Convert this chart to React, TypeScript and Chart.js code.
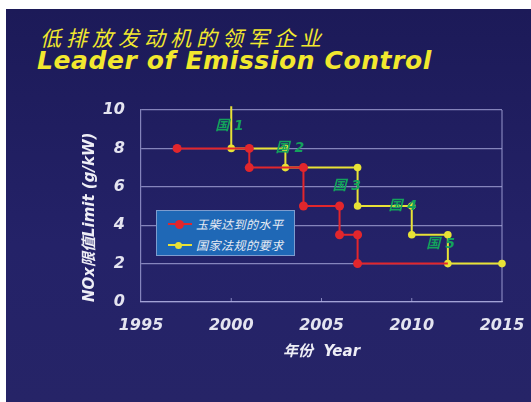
import { useEffect, useRef } from "react";
import { Chart, registerables } from "chart.js";
Chart.register(...registerables);

// Series: 玉柴达到的水平 (Yuchai level), step points
const yuchaiX = [1997, 2001, 2001, 2004, 2004, 2006, 2006, 2007, 2007, 2012];
const yuchaiY = [8, 8, 7, 7, 5, 5, 3.5, 3.5, 2, 2];
// Series: 国家法规的要求 (national regulation)
const stdX = [2000, 2000, 2003, 2003, 2007, 2007, 2010, 2010, 2012, 2012, 2015];
const stdY = [10.2, 8, 8, 7, 7, 5, 5, 3.5, 3.5, 2, 2];

const seriesNames = ["玉柴达到的水平", "国家法规的要求"];
const seriesColors = ["#e2262c", "#e8e236"];

const stageLabels = ["国 1", "国 2", "国 3", "国 4", "国 5"];
const stageX = [1999.9, 2003.25, 2006.4, 2009.5, 2011.6];
const stageY = [9.17, 8.0, 6.04, 5.0, 3.02];

const xTickLabels = ["1995", "2000", "2005", "2010", "2015"];
const yTickLabels = ["0", "2", "4", "6", "8", "10"];

const titleZh = "低排放发动机的领军企业";
const titleEn = "Leader of Emission Control";
const xTitle = "年份  Year";
const yTitle = "NOx限值Limit (g/kW)";

const GRID = "rgba(175,175,225,0.7)";
const LATIN = "'DejaVu Sans', 'Noto Sans CJK SC', sans-serif";
const CJK = "'Noto Sans CJK SC', sans-serif";

export default function App() {
  const ref = useRef<HTMLCanvasElement>(null);

  useEffect(() => {
    const framePlugin = {
      id: "frame",
      beforeDatasetsDraw(chart: any) {
        const { ctx, chartArea } = chart;
        const xs = chart.scales.x;
        ctx.save();
        ctx.strokeStyle = GRID;
        ctx.lineWidth = 1.2;
        ctx.beginPath();
        ctx.moveTo(chartArea.right, chartArea.top);
        ctx.lineTo(chartArea.right, chartArea.bottom);
        ctx.stroke();
        ctx.lineWidth = 1;
        xs.ticks.forEach((t: any) => {
          const px = xs.getPixelForValue(t.value);
          if (px > chartArea.left + 1 && px < chartArea.right - 1) {
            ctx.beginPath();
            ctx.moveTo(px, chartArea.bottom);
            ctx.lineTo(px, chartArea.bottom - 4);
            ctx.stroke();
          }
        });
        ctx.restore();
      },
    };
    const stagePlugin = {
      id: "stages",
      afterDatasetsDraw(chart: any) {
        const { ctx } = chart;
        const xs = chart.scales.x;
        const ys = chart.scales.y;
        ctx.save();
        ctx.fillStyle = "#14a25c";
        ctx.font = `italic bold 14px ${LATIN}`;
        ctx.textAlign = "center";
        ctx.textBaseline = "middle";
        stageLabels.forEach((l, i) => {
          ctx.fillText(l, xs.getPixelForValue(stageX[i]), ys.getPixelForValue(stageY[i]));
        });
        ctx.restore();
      },
    };

    const chart = new Chart(ref.current!, {
      type: "line",
      data: {
        datasets: [
          {
            label: seriesNames[0],
            data: yuchaiX.map((x, i) => ({ x, y: yuchaiY[i] })),
            borderColor: seriesColors[0],
            backgroundColor: seriesColors[0],
            borderWidth: 2,
            pointRadius: yuchaiX.map((_, i) => (i === yuchaiX.length - 1 ? 0 : 4.5)),
            pointBorderWidth: 0,
            tension: 0,
            clip: false as any,
          },
          {
            label: seriesNames[1],
            data: stdX.map((x, i) => ({ x, y: stdY[i] })),
            borderColor: seriesColors[1],
            backgroundColor: seriesColors[1],
            borderWidth: 2,
            pointRadius: stdX.map((_, i) => (i === 0 ? 0 : 3.8)),
            pointBorderWidth: 0,
            tension: 0,
            clip: false as any,
          },
        ],
      },
      options: {
        responsive: false,
        animation: false,
        layout: { padding: { left: 0, top: 110, right: 29, bottom: 0 } },
        plugins: { legend: { display: false }, tooltip: { enabled: false } },
        scales: {
          x: {
            type: "linear",
            min: 1995,
            max: 2015,
            afterFit: (s: any) => {
              s.height = 100;
              s.paddingLeft = 0;
              s.paddingRight = 0;
            },
            ticks: {
              stepSize: 5,
              padding: 14,
              maxRotation: 0,
              color: "#e4e4f0",
              font: { family: LATIN, size: 16, weight: "bold", style: "italic" },
              callback: (v: any) => xTickLabels[Math.round((Number(v) - 1995) / 5)] ?? "",
            },
            grid: { drawOnChartArea: false, drawTicks: false, color: GRID },
            border: { color: GRID, width: 1.2 },
            title: {
              display: true,
              text: xTitle,
              color: "#eeeef6",
              font: { family: LATIN, size: 15, weight: "bold", style: "italic" },
              padding: { top: 0, bottom: 41 },
            },
          },
          y: {
            min: 0,
            max: 10,
            afterFit: (s: any) => {
              s.width = 141;
              s.paddingTop = 0;
              s.paddingBottom = 0;
            },
            ticks: {
              stepSize: 2,
              padding: 16,
              color: "#e4e4f0",
              font: { family: LATIN, size: 16, weight: "bold", style: "italic" },
              callback: (v: any) => yTickLabels[Math.round(Number(v) / 2)] ?? "",
            },
            grid: { drawTicks: false, color: GRID, lineWidth: 1.2 },
            border: { color: GRID, width: 1.2 },
            title: {
              display: true,
              text: yTitle,
              align: "start",
              color: "#eeeef6",
              font: { family: LATIN, size: 15, weight: "bold", style: "italic" },
              padding: { top: 81, bottom: 0 },
            },
          },
        },
      },
      plugins: [framePlugin, stagePlugin],
    });
    return () => chart.destroy();
  }, []);

  return (
    <div style={{ position: "absolute", left: 0, top: 0, width: 531, height: 402, background: "#fff", overflow: "hidden" }}>
      <div
        style={{
          position: "absolute",
          left: 6,
          top: 9,
          width: 525,
          height: 393,
          background: "linear-gradient(#1c1a58, #242268 60%, #262467)",
        }}
      />
      <div
        style={{
          position: "absolute",
          left: 40,
          top: 26,
          fontFamily: CJK,
          fontStyle: "italic",
          fontSize: 21,
          lineHeight: "22px",
          letterSpacing: 5,
          color: "#f2e82e",
          whiteSpace: "nowrap",
        }}
      >
        {titleZh}
      </div>
      <div
        style={{
          position: "absolute",
          left: 37,
          top: 48,
          fontFamily: LATIN,
          fontStyle: "italic",
          fontWeight: "bold",
          fontSize: 25,
          lineHeight: "25px",
          letterSpacing: 0.6,
          color: "#f2e82e",
          whiteSpace: "nowrap",
        }}
      >
        {titleEn}
      </div>
      <canvas ref={ref} width={531} height={402} style={{ position: "absolute", left: 0, top: 0 }} />
      <div
        style={{
          position: "absolute",
          left: 156,
          top: 210,
          width: 137,
          height: 44,
          background: "#1f68b6",
          border: "1px solid #7d9ccf",
          boxSizing: "content-box",
        }}
      >
        {seriesNames.map((n, i) => (
          <div key={n} style={{ position: "absolute", left: 11, top: 6 + i * 21, height: 14, width: 125 }}>
            <div style={{ position: "absolute", left: 0, top: 6, width: 24, height: 2, background: seriesColors[i] }} />
            <div
              style={{
                position: "absolute",
                left: 7,
                top: i === 0 ? 2.5 : 3.5,
                width: i === 0 ? 9 : 7,
                height: i === 0 ? 9 : 7,
                borderRadius: "50%",
                background: seriesColors[i],
              }}
            />
            <div
              style={{
                position: "absolute",
                left: 28,
                top: -1,
                fontFamily: CJK,
                fontStyle: "italic",
                fontSize: 12,
                lineHeight: "16px",
                letterSpacing: 0.5,
                color: "#e8ecf4",
                whiteSpace: "nowrap",
              }}
            >
              {n}
            </div>
          </div>
        ))}
      </div>
    </div>
  );
}
